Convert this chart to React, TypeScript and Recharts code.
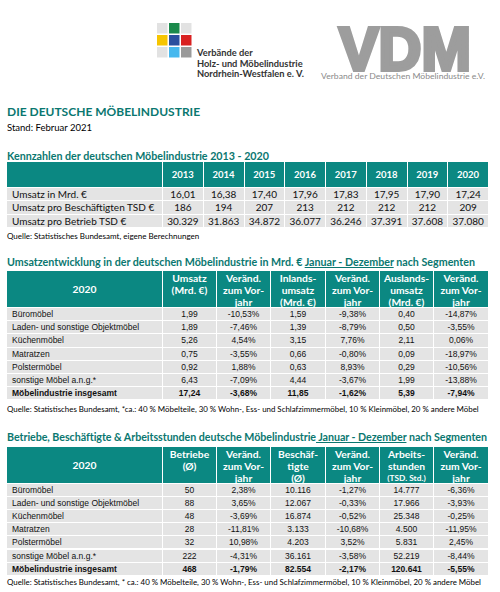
import React from "react";
import { Surface, Rectangle } from "recharts";

// Kennzahlen 2013 - 2020
const years = ["2013", "2014", "2015", "2016", "2017", "2018", "2019", "2020"];
const kennLabels = ["Umsatz in Mrd. €", "Umsatz  pro Beschäftigten TSD €", "Umsatz pro Betrieb TSD €"];
const umsatzMrd = ["16,01", "16,38", "17,40", "17,96", "17,83", "17,95", "17,90", "17,24"];
const umsatzProBesch = ["186", "194", "207", "213", "212", "212", "212", "209"];
const umsatzProBetrieb = ["30.329", "31.863", "34.872", "36.077", "36.246", "37.391", "37.608", "37.080"];

// Segmente 2020
const segments = [
  "Büromöbel",
  "Laden- und sonstige Objektmöbel",
  "Küchenmöbel",
  "Matratzen",
  "Polstermöbel",
  "sonstige Möbel a.n.g.*",
  "Möbelindustrie insgesamt",
];
const umsatz = ["1,99", "1,89", "5,26", "0,75", "0,92", "6,43", "17,24"];
const umsatzVer = ["-10,53%", "-7,46%", "4,54%", "-3,55%", "1,88%", "-7,09%", "-3,68%"];
const inland = ["1,59", "1,39", "3,15", "0,66", "0,63", "4,44", "11,85"];
const inlandVer = ["-9,38%", "-8,79%", "7,76%", "-0,80%", "8,93%", "-3,67%", "-1,62%"];
const ausland = ["0,40", "0,50", "2,11", "0,09", "0,29", "1,99", "5,39"];
const auslandVer = ["-14,87%", "-3,55%", "0,06%", "-18,97%", "-10,56%", "-13,88%", "-7,94%"];

const betriebe = ["50", "88", "48", "28", "32", "222", "468"];
const betriebeVer = ["2,38%", "3,65%", "-3,69%", "-11,81%", "10,98%", "-4,31%", "-1,79%"];
const beschaeftigte = ["10.116", "12.067", "16.874", "3.133", "4.203", "36.161", "82.554"];
const beschVer = ["-1,27%", "-0,33%", "-0,52%", "-10,68%", "3,52%", "-3,58%", "-2,17%"];
const stunden = ["14.777", "17.966", "25.348", "4.500", "5.831", "52.219", "120.641"];
const stundenVer = ["-6,36%", "-3,93%", "-0,25%", "-11,95%", "2,45%", "-8,44%", "-5,55%"];

const umsatzHeads = ["Umsatz\n(Mrd. €)", "Veränd.\nzum Vor-\njahr", "Inlands-\numsatz\n(Mrd. €)", "Veränd.\nzum Vor-\njahr", "Auslands-\numsatz\n(Mrd. €)", "Veränd.\nzum Vor-\njahr"];
const betriebHeads = ["Betriebe\n(Ø)", "Veränd.\nzum Vor-\njahr", "Beschäf-\ntigte\n(Ø)", "Veränd.\nzum Vor-\njahr", "Arbeits-\nstunden\n(TSD. Std.)", "Veränd.\nzum Vor-\njahr"];

const TEAL = "#0b8882";
const TEAL_TEXT = "#0a7770";
const GRAY = "#e4e4e4";
const CAL = "Lato, 'Open Sans', sans-serif";
const ARIAL = "'Liberation Sans', Arial, sans-serif";

function Line({ top, children, size, color = "#000", bold = false, family = CAL, spacing = 0 }: any) {
  return (
    <div style={{ position: "absolute", left: 7, top, fontSize: size, lineHeight: `${Math.round(size + 4)}px`, color, fontWeight: bold ? 700 : 400, fontFamily: family, whiteSpace: "nowrap", letterSpacing: spacing }}>
      {children}
    </div>
  );
}

function Grid({ top, cols, headH, rowH, heads, rows, bodyFont, bodySize, headSize, lastBold }: any) {
  const lefts: number[] = [];
  let x = 7;
  cols.forEach((w: number) => { lefts.push(x); x += w; });
  const cells: any[] = [];
  heads.forEach((h: string, c: number) => {
    const lines = h.split("\n");
    const centered = c === 0 || lines.length === 1;
    cells.push(
      <div key={"h" + c} style={{ position: "absolute", left: lefts[c], top, width: cols[c] - 1, height: headH - 1, background: TEAL, color: "#fff", fontFamily: CAL, fontWeight: 700, fontSize: headSize, textAlign: "center", display: "flex", flexDirection: "column", justifyContent: centered ? "center" : "flex-start", paddingTop: centered ? 0 : 1, boxSizing: "border-box" }}>
        {lines.map((l, i) => (
          <div key={i} style={{ lineHeight: "12px", whiteSpace: "nowrap", fontSize: l.startsWith("(TSD") ? headSize - 2 : headSize }}>{l}</div>
        ))}
      </div>
    );
  });
  rows.forEach((r: string[], ri: number) => {
    const y = top + headH + ri * rowH;
    const bold = lastBold && ri === rows.length - 1;
    r.forEach((v, c) => {
      cells.push(
        <div key={ri + "-" + c} style={{ position: "absolute", left: lefts[c], top: y, width: cols[c] - 1, height: rowH - 1, background: GRAY, fontFamily: bodyFont, fontSize: bodySize, fontWeight: bold ? 700 : 400, color: "#111", lineHeight: `${rowH - 1}px`, textAlign: c === 0 ? "left" : "center", paddingLeft: c === 0 ? 5 : 0, boxSizing: "border-box", whiteSpace: "nowrap" }}>
          {v}
        </div>
      );
    });
  });
  return <>{cells}</>;
}

function Logos() {
  const sq = [
    ["#e2e2e2", "#1b8a4c", "#e2e2e2"],
    ["#f6c500", "#2a4f9e", "#d92121"],
    ["#e2e2e2", "#46b8ee", "#9a9a9a"],
  ];
  const xs = [157, 169, 181];
  const ys = [23, 35, 47];
  return (
    <Surface width={500} height={90} viewBox={{ x: 0, y: 0, width: 500, height: 90 }} style={{ position: "absolute", left: 0, top: 0 }}>
      {sq.map((row, r) => row.map((c, k) => (
        <Rectangle key={r + "-" + k} x={xs[k]} y={ys[r]} width={10.5} height={10.5} fill={c} />
      )))}
      <g fontFamily={CAL} fontWeight={700} fontSize={9.3} fill="#333">
        <text x={197} y={56}>Verbände der</text>
        <text x={197} y={66.5}>Holz- und Möbelindustrie</text>
        <text x={197} y={77}>Nordrhein-Westfalen e. V.</text>
      </g>
      <text x={339} y={70} fontFamily={ARIAL} fontWeight={700} fontSize={62} fill="#9d9d9d" stroke="#9d9d9d" strokeWidth={4} strokeLinejoin="miter" textLength={132} lengthAdjust="spacingAndGlyphs">VDM</text>
      <text x={321} y={79} fontFamily={CAL} fontSize={7.5} fill="#8a8a8a" textLength={164} lengthAdjust="spacingAndGlyphs">Verband der Deutschen Möbelindustrie e.V.</text>
    </Surface>
  );
}

export default function App() {
  const kennRows = [umsatzMrd, umsatzProBesch, umsatzProBetrieb].map((vals, i) => [kennLabels[i], ...vals]);
  const umsatzRows = segments.map((s, i) => [s, umsatz[i], umsatzVer[i], inland[i], inlandVer[i], ausland[i], auslandVer[i]]);
  const betriebRows = segments.map((s, i) => [s, betriebe[i], betriebeVer[i], beschaeftigte[i], beschVer[i], stunden[i], stundenVer[i]]);
  const segCols = [156, 54, 54, 55, 54, 54, 55];
  const kennCols = [156, 40.75, 40.75, 40.75, 40.75, 40.75, 40.75, 40.75, 40.75];
  return (
    <div style={{ position: "absolute", left: 0, top: 0, width: 500, height: 592, background: "#fff", overflow: "hidden" }}>
      <Logos />
      <Line top={104} size={12} color={TEAL_TEXT} bold>DIE DEUTSCHE MÖBELINDUSTRIE</Line>
      <Line top={121} size={9.5}>Stand: Februar 2021</Line>

      <Line top={148} size={10.7} color={TEAL_TEXT} bold>Kennzahlen der deutschen Möbelindustrie 2013 - 2020</Line>
      <Grid top={162} cols={kennCols} headH={26} rowH={13.4} heads={["", ...years]} rows={kennRows} bodyFont={CAL} bodySize={10} headSize={9.5} />
      <Line top={230} size={8}>Quelle: Statistisches Bundesamt, eigene Berechnungen</Line>

      <Line top={254} size={10.7} color={TEAL_TEXT} bold>
        Umsatzentwicklung in der deutschen Möbelindustrie in Mrd. € <span style={{ textDecoration: "underline" }}>Januar - Dezember</span> nach Segmenten
      </Line>
      <Grid top={271} cols={segCols} headH={37} rowH={13.2} heads={["2020", ...umsatzHeads]} rows={umsatzRows} bodyFont={ARIAL} bodySize={8.5} headSize={10.3} lastBold />
      <Line top={403} size={7.9}>Quelle: Statistisches Bundesamt, *ca.: 40 % Möbelteile, 30 % Wohn-, Ess- und Schlafzimmermöbel, 10 % Kleinmöbel, 20 % andere Möbel</Line>

      <Line top={429} size={10.7} color={TEAL_TEXT} bold spacing={-0.05}>
        Betriebe, Beschäftigte &amp; Arbeitsstunden deutsche Möbelindustrie<span style={{ textDecoration: "underline" }}> Januar - Dezember</span> nach Segmenten
      </Line>
      <Grid top={447} cols={segCols} headH={37} rowH={13.1} heads={["2020", ...betriebHeads]} rows={betriebRows} bodyFont={ARIAL} bodySize={8.5} headSize={10.3} lastBold />
      <Line top={576} size={7.9}>Quelle: Statistisches Bundesamt, * ca.: 40 % Möbelteile, 30 % Wohn-, Ess- und Schlafzimmermöbel, 10 % Kleinmöbel, 20 % andere Möbel</Line>
    </div>
  );
}
